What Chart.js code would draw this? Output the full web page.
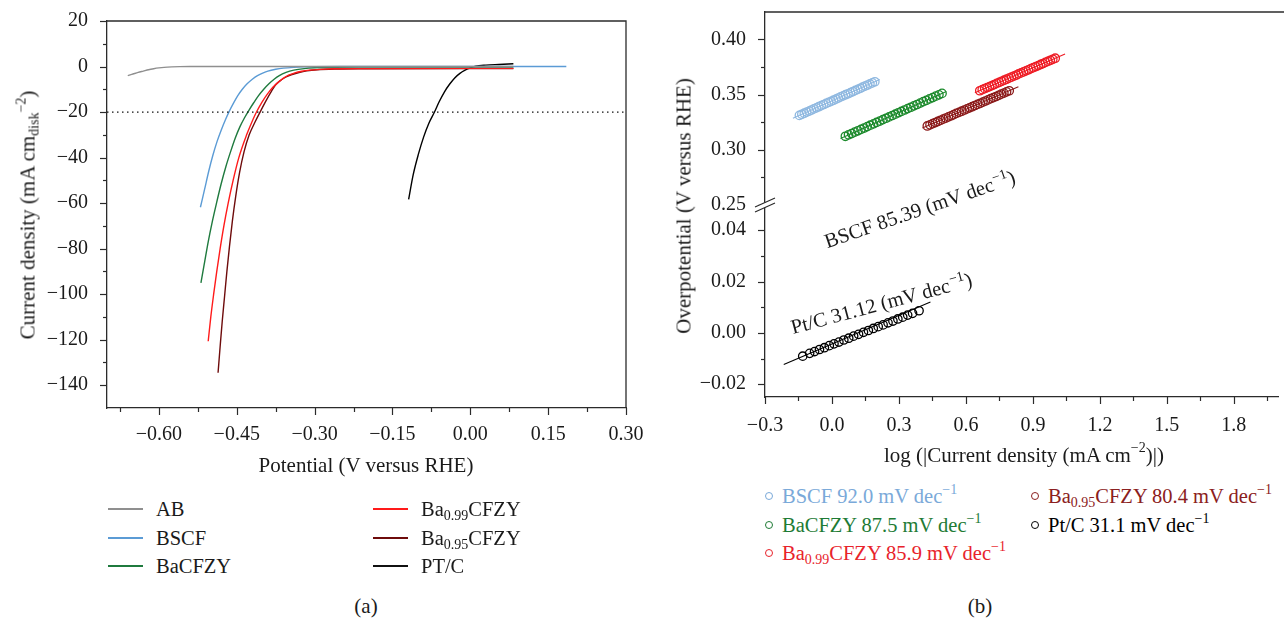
<!DOCTYPE html>
<html>
<head>
<meta charset="utf-8">
<script src="https://cdn.jsdelivr.net/npm/chart.js@4.4.1/dist/chart.umd.min.js"></script>
<style>
  body { margin: 0; background: #fff; }
  #wrap { position: relative; width: 1284px; height: 620px; overflow: hidden;
          font-family: "Liberation Serif", "DejaVu Serif", serif; font-size: 21px; color: #1a1a1a; }
  canvas { position: absolute; top: 0; }
  .t { position: absolute; white-space: nowrap; line-height: 1; transform: translate(-50%, -50%); }
  .rot { transform: translate(-50%, -50%) rotate(-90deg); }
  sub, sup { font-size: 14px; line-height: 0; }
  sub { vertical-align: -0.3em; }
  sup { vertical-align: 0.65em; }
  .lg { position: absolute; white-space: nowrap; line-height: 22px; margin-top: -11px; font-size: 20.5px; }
  .ln { position: absolute; left: 0; top: 10px; width: 35px; height: 2px; }
  .lg.l { padding-left: 48px; }
  .mk { display: inline-block; vertical-align: middle; width: 6px; height: 6px; border: 1.4px solid; border-radius: 50%; margin-right: 9px; position: relative; top: -2px; }
</style>
</head>
<body>
<div id="wrap">
  <canvas id="lsv" width="650" height="480" style="left:0"></canvas>
  <canvas id="tafel" width="624" height="480" style="left:660px"></canvas>

  <div class="t rot" style="left:28px;top:215px">Current density (mA cm<sub>disk</sub><sup>−2</sup>)</div>
  <div class="t" style="left:366px;top:465px">Potential (V versus RHE)</div>
  <div class="t rot" style="left:684px;top:206px">Overpotential (V versus RHE)</div>
  <div class="t" style="left:1024px;top:455px">log (|Current density (mA cm<sup>−2</sup>)|)</div>

  <div class="lg l" style="left:108px;top:509px"><span class="ln" style="background:#8f8f8f"></span>AB</div>
  <div class="lg l" style="left:108px;top:538px"><span class="ln" style="background:#5b9bd5"></span>BSCF</div>
  <div class="lg l" style="left:108px;top:566px"><span class="ln" style="background:#1f7a3e"></span>BaCFZY</div>
  <div class="lg l" style="left:373px;top:509px"><span class="ln" style="background:#ff1a1a"></span>Ba<sub>0.99</sub>CFZY</div>
  <div class="lg l" style="left:373px;top:538px"><span class="ln" style="background:#6e0b0b"></span>Ba<sub>0.95</sub>CFZY</div>
  <div class="lg l" style="left:373px;top:566px"><span class="ln" style="background:#111"></span>PT/C</div>
  <div class="t" style="left:366px;top:606px">(a)</div>

  <div class="lg" style="left:765px;top:496px;color:#7aa9d9"><span class="mk"></span>BSCF 92.0 mV dec<sup>−1</sup></div>
  <div class="lg" style="left:765px;top:525px;color:#1e7b35"><span class="mk"></span>BaCFZY 87.5 mV dec<sup>−1</sup></div>
  <div class="lg" style="left:765px;top:553px;color:#e8232b"><span class="mk"></span>Ba<sub>0.99</sub>CFZY 85.9 mV dec<sup>−1</sup></div>
  <div class="lg" style="left:1031px;top:496px;color:#8b2020"><span class="mk"></span>Ba<sub>0.95</sub>CFZY 80.4 mV dec<sup>−1</sup></div>
  <div class="lg" style="left:1031px;top:525px;color:#000"><span class="mk"></span>Pt/C 31.1 mV dec<sup>−1</sup></div>
  <div class="t" style="left:980px;top:606px">(b)</div>
</div>

<script>
// ---- (a) polarisation curves: potential (V vs RHE) / current density (mA cm-2)
const potAB   = [-0.660, -0.650, -0.640, -0.630, -0.620, -0.610, -0.600, -0.590, -0.575, -0.560, -0.540, -0.500, -0.400, -0.300, -0.200, -0.100, 0.000, 0.083];
const curAB   = [-4.0, -3.3, -2.6, -2.0, -1.4, -0.95, -0.6, -0.35, -0.15, -0.05, 0, 0, 0, 0, 0, 0, 0, 0];

const potBSCF = [-0.520, -0.512, -0.504, -0.496, -0.488, -0.480, -0.472, -0.464, -0.456, -0.448, -0.440, -0.430, -0.420, -0.410, -0.400, -0.390, -0.375, -0.360, -0.340, -0.320, -0.300, -0.250, 0.000, 0.185];
const curBSCF = [-61.8, -54, -46, -39, -33, -28, -23.5, -19.5, -16, -12.8, -10.2, -7.6, -5.6, -4.0, -2.9, -2.0, -1.2, -0.7, -0.35, -0.15, -0.05, 0, 0, 0];

const potBa   = [-0.519, -0.512, -0.505, -0.497, -0.489, -0.480, -0.471, -0.462, -0.453, -0.444, -0.435, -0.426, -0.417, -0.408, -0.398, -0.388, -0.378, -0.368, -0.355, -0.340, -0.320, -0.300, -0.270, -0.200, 0.000, 0.083];
const curBa   = [-95, -86, -77, -68, -60, -51.5, -44, -37.5, -31.5, -26.5, -22.5, -19, -15.8, -12.8, -10, -7.6, -5.6, -4.0, -2.6, -1.6, -0.9, -0.55, -0.35, -0.25, -0.2, -0.2];

const pot099  = [-0.505, -0.500, -0.4945, -0.4885, -0.482, -0.4748, -0.4665, -0.457, -0.446, -0.431, -0.422, -0.412, -0.401, -0.390, -0.380, -0.370, -0.360, -0.350, -0.338, -0.325, -0.310, -0.290, -0.260, -0.200, 0.000, 0.083];
const cur099  = [-120.7, -110, -100, -90, -80, -70, -60, -50, -40, -30, -25, -20, -15.5, -11.8, -9.0, -6.9, -5.1, -3.8, -2.8, -2.1, -1.6, -1.25, -1.0, -0.9, -0.8, -0.8];

const pot095  = [-0.486, -0.482, -0.478, -0.4735, -0.469, -0.464, -0.4585, -0.452, -0.4445, -0.436, -0.426, -0.415, -0.405, -0.394, -0.383, -0.375, -0.365, -0.355, -0.345, -0.330, -0.315, -0.295, -0.260, -0.200, 0.000, 0.083];
const cur095  = [-134.5, -123, -112, -101, -90, -79, -68, -57, -46.5, -37.5, -30, -24.5, -20, -15.2, -10.8, -8.0, -6.0, -4.6, -3.6, -2.6, -1.9, -1.4, -1.1, -1.0, -0.9, -0.9];

const potPt   = [-0.1188, -0.110, -0.100, -0.090, -0.080, -0.069, -0.060, -0.050, -0.040, -0.030, -0.020, -0.010, 0.000, 0.010, 0.030, 0.055, 0.083];
const curPt   = [-58.4, -47.5, -38.5, -31, -25, -20, -15.5, -11.2, -7.8, -5.0, -3.0, -1.6, -0.6, 0.1, 0.6, 0.9, 1.2];

const refPot = [-0.70, 0.30];
const refCur = [-20, -20];

const xMajorA  = [-0.60, -0.45, -0.30, -0.15, 0.00, 0.15, 0.30];
const xLabelsA = ['−0.60', '−0.45', '−0.30', '−0.15', '0.00', '0.15', '0.30'];
const xMinorA  = [-0.675, -0.525, -0.375, -0.225, -0.075, 0.075, 0.225];
const yMajorA  = [20, 0, -20, -40, -60, -80, -100, -120, -140];
const yLabelsA = ['20', '0', '−20', '−40', '−60', '−80', '−100', '−120', '−140'];
const yMinorA  = [10, -10, -30, -50, -70, -90, -110, -130];

// ---- (b) Tafel plots: log|j| / overpotential (V vs RHE)
const logBSCF = [-0.146, -0.135, -0.124, -0.113, -0.102, -0.092, -0.081, -0.070, -0.059, -0.048, -0.037, -0.026, -0.015, -0.004, 0.007, 0.018, 0.028, 0.039, 0.050, 0.061, 0.072, 0.083, 0.094, 0.105, 0.116, 0.127, 0.137, 0.148, 0.159, 0.170, 0.181, 0.192];
const etaBSCF = [0.3310, 0.3320, 0.3330, 0.3340, 0.3349, 0.3359, 0.3369, 0.3379, 0.3389, 0.3399, 0.3409, 0.3419, 0.3428, 0.3438, 0.3448, 0.3458, 0.3468, 0.3478, 0.3488, 0.3498, 0.3507, 0.3517, 0.3527, 0.3537, 0.3547, 0.3557, 0.3567, 0.3577, 0.3586, 0.3596, 0.3606, 0.3616];
const logBa   = [0.060, 0.074, 0.088, 0.102, 0.116, 0.130, 0.144, 0.158, 0.172, 0.186, 0.200, 0.214, 0.228, 0.242, 0.256, 0.270, 0.284, 0.297, 0.311, 0.325, 0.339, 0.353, 0.367, 0.381, 0.395, 0.409, 0.423, 0.437, 0.451, 0.465, 0.479, 0.493];
const etaBa   = [0.3120, 0.3133, 0.3145, 0.3158, 0.3170, 0.3183, 0.3195, 0.3208, 0.3221, 0.3233, 0.3246, 0.3258, 0.3271, 0.3284, 0.3296, 0.3309, 0.3321, 0.3334, 0.3346, 0.3359, 0.3372, 0.3384, 0.3397, 0.3409, 0.3422, 0.3435, 0.3447, 0.3460, 0.3472, 0.3485, 0.3497, 0.3510];
const log099  = [0.662, 0.673, 0.684, 0.695, 0.706, 0.717, 0.727, 0.738, 0.749, 0.760, 0.771, 0.782, 0.793, 0.804, 0.815, 0.826, 0.836, 0.847, 0.858, 0.869, 0.880, 0.891, 0.902, 0.913, 0.924, 0.935, 0.945, 0.956, 0.967, 0.978, 0.989, 1.000];
const eta099  = [0.3534, 0.3544, 0.3553, 0.3563, 0.3572, 0.3582, 0.3591, 0.3601, 0.3610, 0.3620, 0.3630, 0.3639, 0.3649, 0.3658, 0.3668, 0.3677, 0.3687, 0.3696, 0.3706, 0.3715, 0.3725, 0.3735, 0.3744, 0.3754, 0.3763, 0.3773, 0.3782, 0.3792, 0.3801, 0.3811, 0.3820, 0.3830];
const log095  = [0.427, 0.439, 0.451, 0.463, 0.474, 0.486, 0.498, 0.510, 0.522, 0.534, 0.545, 0.557, 0.569, 0.581, 0.593, 0.605, 0.616, 0.628, 0.640, 0.652, 0.664, 0.676, 0.687, 0.699, 0.711, 0.723, 0.735, 0.747, 0.758, 0.770, 0.782, 0.794];
const eta095  = [0.3214, 0.3224, 0.3235, 0.3245, 0.3255, 0.3266, 0.3276, 0.3286, 0.3297, 0.3307, 0.3317, 0.3328, 0.3338, 0.3348, 0.3359, 0.3369, 0.3379, 0.3389, 0.3400, 0.3410, 0.3420, 0.3431, 0.3441, 0.3451, 0.3462, 0.3472, 0.3482, 0.3493, 0.3503, 0.3513, 0.3524, 0.3534];
const logPt   = [-0.131, -0.100, -0.078, -0.056, -0.034, -0.012, 0.009, 0.031, 0.053, 0.075, 0.097, 0.119, 0.141, 0.163, 0.185, 0.207, 0.229, 0.251, 0.273, 0.295, 0.317, 0.339, 0.361, 0.390];
const etaPt   = [-0.0091, -0.0080, -0.0073, -0.0065, -0.0058, -0.0050, -0.0043, -0.0036, -0.0028, -0.0021, -0.0013, -0.0006, 0.0002, 0.0009, 0.0017, 0.0024, 0.0031, 0.0039, 0.0046, 0.0054, 0.0061, 0.0069, 0.0076, 0.0086];

// linear fits (end points)
const fitBSCF = { log: [-0.175, 0.214], eta: [0.3284, 0.3636] };
const fitBa   = { log: [0.038, 0.512],  eta: [0.3101, 0.3527] };
const fit099  = { log: [0.640, 1.044],  eta: [0.3515, 0.3869] };
const fit095  = { log: [0.405, 0.835],  eta: [0.3195, 0.3570] };
const fitPt   = { log: [-0.216, 0.441], eta: [-0.0123, 0.0120] };

const annText = ['BSCF 85.39 (mV dec', 'Pt/C 31.12 (mV dec'];
const annLog  = [-0.021, -0.175];
const annEta  = [0.033, -0.0005];

const xMajorB  = [-0.3, 0.0, 0.3, 0.6, 0.9, 1.2, 1.5, 1.8];
const xLabelsB = ['−0.3', '0.0', '0.3', '0.6', '0.9', '1.2', '1.5', '1.8'];
const xMinorB  = [-0.15, 0.15, 0.45, 0.75, 1.05, 1.35, 1.65, 1.95];
const yTopMajor  = [0.25, 0.30, 0.35, 0.40];
const yTopLabels = ['0.25', '0.30', '0.35', '0.40'];
const yTopMinor  = [0.275, 0.325, 0.375];
const yBotMajor  = [-0.02, 0.00, 0.02, 0.04];
const yBotLabels = ['−0.02', '0.00', '0.02', '0.04'];
const yBotMinor  = [-0.01, 0.01, 0.03];

// ---- helpers
const FONT = { family: '"Liberation Serif", "DejaVu Serif", serif', size: 20 };
const AXIS = '#2b2b2b';
const pts = (xs, ys) => xs.map((x, i) => ({ x, y: ys[i] }));

// label gap is given as tickLength (ticks themselves are drawn by tickMarks)
function tickScale(extra, major, minor, labels, gap) {
  return Object.assign({
    type: 'linear',
    grid: { display: false, drawTicks: true, tickLength: gap },
    border: { display: true, color: AXIS, width: 1.3 },
    afterBuildTicks: s => { s.ticks = major.concat(minor).sort((a, b) => a - b).map(v => ({ value: v })); },
    ticks: {
      autoSkip: false, maxRotation: 0, padding: 0, color: '#1a1a1a', font: FONT,
      callback: v => { const i = major.findIndex(m => Math.abs(m - v) < 1e-9); return i < 0 ? '' : labels[i]; },
    },
  }, extra);
}

const tickMarks = {
  id: 'tickMarks',
  afterDraw(chart) {
    const ctx = chart.ctx, a = chart.chartArea;
    ctx.save();
    ctx.strokeStyle = AXIS; ctx.lineWidth = 1.2;
    Object.values(chart.scales).forEach(s => {
      s.ticks.forEach(t => {
        const len = t.label ? 7 : 4;
        ctx.beginPath();
        if (s.isHorizontal()) {
          const x = Math.round(s.getPixelForValue(t.value)) + 0.5;
          ctx.moveTo(x, a.bottom); ctx.lineTo(x, a.bottom + len);
        } else {
          const y = Math.round(s.getPixelForValue(t.value)) + 0.5;
          ctx.moveTo(s.right, y); ctx.lineTo(s.right - len, y);
        }
        ctx.stroke();
      });
    });
    ctx.restore();
  }
};

const frame = {
  id: 'frame',
  afterDraw(chart, args, opts) {
    const ctx = chart.ctx, a = chart.chartArea;
    ctx.save();
    ctx.strokeStyle = AXIS; ctx.lineWidth = 1.3;
    ctx.beginPath();
    ctx.moveTo(a.left, a.top); ctx.lineTo(opts.toEdge ? chart.width : a.right, a.top);
    if (!opts.toEdge) ctx.lineTo(a.right, a.bottom);
    ctx.stroke();
    ctx.restore();
  }
};

// ---- (a)
const lsvSeries = [
  { label: 'AB',         xs: potAB,   ys: curAB,   color: '#8f8f8f' },
  { label: 'BSCF',       xs: potBSCF, ys: curBSCF, color: '#5b9bd5' },
  { label: 'BaCFZY',     xs: potBa,   ys: curBa,   color: '#1f7a3e' },
  { label: 'Ba0.99CFZY', xs: pot099,  ys: cur099,  color: '#ff1a1a' },
  { label: 'Ba0.95CFZY', xs: pot095,  ys: cur095,  color: '#6e0b0b' },
  { label: 'PT/C',       xs: potPt,   ys: curPt,   color: '#000000' },
];

new Chart(document.getElementById('lsv'), {
  type: 'line',
  data: {
    datasets: [{
      label: '-20', data: pts(refPot, refCur), borderColor: '#111', borderWidth: 1.3,
      borderDash: [1.5, 3.5], pointRadius: 0,
    }].concat(lsvSeries.map(s => ({
      label: s.label, data: pts(s.xs, s.ys), borderColor: s.color, borderWidth: 1.4,
      pointRadius: 0, cubicInterpolationMode: 'monotone',
    }))),
  },
  options: {
    responsive: false, animation: false, devicePixelRatio: 1,
    layout: { padding: { left: 0, top: 21, right: 24, bottom: 0 } },
    plugins: { legend: { display: false }, tooltip: { enabled: false } },
    scales: {
      x: tickScale({ min: -0.70, max: 0.30, afterFit: s => { s.height = 72; } }, xMajorA, xMinorA, xLabelsA, 15),
      y: tickScale({ min: -150, max: 20, afterFit: s => { s.width = 107; } }, yMajorA, yMinorA, yLabelsA, 19),
    },
  },
  plugins: [tickMarks, frame],
});

// ---- (b)
const tafelSeries = [
  { label: 'BSCF',       xs: logBSCF, ys: etaBSCF, fit: fitBSCF, color: '#8fb8e0', axis: 'yTop' },
  { label: 'BaCFZY',     xs: logBa,   ys: etaBa,   fit: fitBa,   color: '#1c8a2c', axis: 'yTop' },
  { label: 'Ba0.99CFZY', xs: log099,  ys: eta099,  fit: fit099,  color: '#ee1c25', axis: 'yTop' },
  { label: 'Ba0.95CFZY', xs: log095,  ys: eta095,  fit: fit095,  color: '#8b1a1a', axis: 'yTop' },
  { label: 'Pt/C',       xs: logPt,   ys: etaPt,   fit: fitPt,   color: '#000000', axis: 'yBot' },
];

const tafelSets = [];
tafelSeries.forEach(s => {
  tafelSets.push({
    label: s.label + ' fit', data: pts(s.fit.log, s.fit.eta), yAxisID: s.axis,
    borderColor: s.color, borderWidth: 1.1, pointRadius: 0, showLine: true,
  });
  tafelSets.push({
    label: s.label, data: pts(s.xs, s.ys), yAxisID: s.axis, showLine: false,
    pointStyle: 'circle', pointRadius: 4.2, pointBorderWidth: 1.3,
    pointBorderColor: s.color, pointBackgroundColor: 'rgba(255,255,255,0)',
  });
});

const slopeLabels = {
  id: 'slopeLabels',
  afterDatasetsDraw(chart) {
    const ctx = chart.ctx, x = chart.scales.x, y = chart.scales.yBot;
    const angles = [-19, -15];
    ctx.save();
    ctx.fillStyle = '#1a1a1a';
    annText.forEach((txt, i) => {
      ctx.save();
      ctx.translate(x.getPixelForValue(annLog[i]), y.getPixelForValue(annEta[i]));
      ctx.rotate(angles[i] * Math.PI / 180);
      ctx.font = '20.5px ' + FONT.family;
      ctx.textBaseline = 'alphabetic';
      ctx.fillText(txt, 0, 0);
      let w = ctx.measureText(txt).width;
      ctx.font = '14px ' + FONT.family;
      ctx.fillText('−1', w + 1, -8);
      w += ctx.measureText('−1').width + 1;
      ctx.font = '20.5px ' + FONT.family;
      ctx.fillText(')', w, 0);
      ctx.restore();
    });
    ctx.restore();
  }
};

const axisBreak = {
  id: 'axisBreak',
  afterDraw(chart) {
    const ctx = chart.ctx, top = chart.scales.yTop, xl = chart.chartArea.left;
    const yb = top.bottom;
    ctx.save();
    ctx.fillStyle = '#fff';
    ctx.beginPath();
    ctx.moveTo(xl - 9, yb + 2); ctx.lineTo(xl + 9, yb - 6); ctx.lineTo(xl + 9, yb - 1); ctx.lineTo(xl - 9, yb + 7);
    ctx.closePath(); ctx.fill();
    ctx.strokeStyle = AXIS; ctx.lineWidth = 1.2;
    ctx.beginPath();
    ctx.moveTo(xl - 10, yb + 2.5); ctx.lineTo(xl + 10, yb - 6.5);
    ctx.moveTo(xl - 10, yb + 7.5); ctx.lineTo(xl + 10, yb - 1.5);
    ctx.stroke();
    ctx.restore();
  }
};

new Chart(document.getElementById('tafel'), {
  type: 'scatter',
  data: { datasets: tafelSets },
  options: {
    responsive: false, animation: false, devicePixelRatio: 1,
    layout: { padding: { left: 0, top: 11, right: 0, bottom: 0 } },
    plugins: { legend: { display: false }, tooltip: { enabled: false }, frame: { toEdge: true } },
    scales: {
      x: tickScale({ min: -0.3, max: 2.0, afterFit: s => { s.height = 83; } }, xMajorB, xMinorB, xLabelsB, 17),
      yTop: tickScale({ min: 0.25, max: 0.425, position: 'left', stack: 'eta', stackWeight: 1, weight: 2,
                        afterFit: s => { s.width = 105; } }, yTopMajor, yTopMinor, yTopLabels, 19),
      yBot: tickScale({ min: -0.025, max: 0.05, position: 'left', stack: 'eta', stackWeight: 1, weight: 1,
                        afterFit: s => { s.width = 105; } }, yBotMajor, yBotMinor, yBotLabels, 19),
    },
  },
  plugins: [tickMarks, frame, slopeLabels, axisBreak],
});
</script>
</body>
</html>
